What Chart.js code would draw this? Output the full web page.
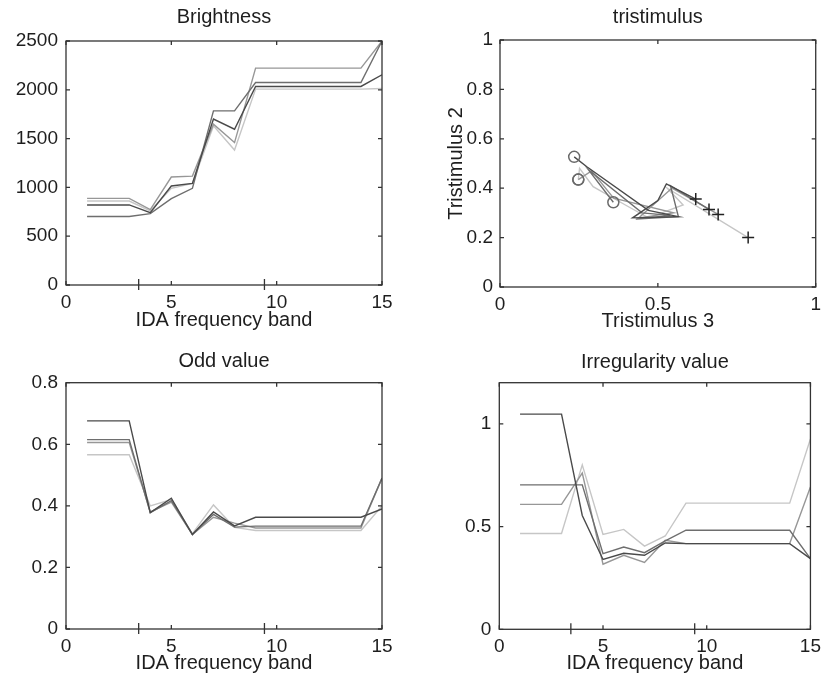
<!DOCTYPE html>
<html><head><meta charset="utf-8">
<script src="https://cdn.jsdelivr.net/npm/chart.js@4.4.0/dist/chart.umd.min.js"></script>
<style>
html,body{margin:0;padding:0;background:#fff;}
#wrap{position:relative;width:827px;height:676px;overflow:hidden;}
.p{position:absolute;}
</style></head><body>
<div id="wrap">
<div class="p" style="left:0;top:0;"><canvas id="c1" width="413" height="338"></canvas></div>
<div class="p" style="left:413px;top:0;"><canvas id="c2" width="414" height="338"></canvas></div>
<div class="p" style="left:0;top:338px;"><canvas id="c3" width="413" height="338"></canvas></div>
<div class="p" style="left:413px;top:338px;"><canvas id="c4" width="414" height="338"></canvas></div>
</div>
<script>
// ---------- data ----------
const bands = [1,2,3,4,5,6,7,8,9,10,11,12,13,14,15];
const bandTicks = [0,5,10,15];
const bandMarks = [3.45, 9.42];

const brightnessTicks = [0,500,1000,1500,2000,2500];
const brightness1 = [820,820,820,740,1014,1041,1700,1596,2034,2034,2034,2034,2034,2034,2154];
const brightness2 = [702,702,702,731,884,990,1784,1784,2075,2075,2075,2075,2075,2075,2500];
const brightness3 = [888,888,888,773,1106,1116,1647,1459,2222,2222,2222,2222,2222,2222,2500];
const brightness4 = [860,860,860,760,990,1041,1630,1383,2007,2007,2007,2007,2007,2007,2014];

const tristXTicks = [0,0.5,1];
const tristYTicks = [0,0.2,0.4,0.6,0.8,1];
const trist3_1 = [0.235,0.235,0.235,0.275,0.47,0.565,0.42,0.50,0.527,0.527,0.527,0.527,0.527,0.527,0.62];
const trist2_1 = [0.527,0.527,0.527,0.487,0.31,0.285,0.28,0.35,0.417,0.417,0.417,0.417,0.417,0.417,0.356];
const trist3_2 = [0.359,0.359,0.359,0.28,0.45,0.54,0.43,0.565,0.54,0.54,0.54,0.54,0.54,0.54,0.662];
const trist2_2 = [0.343,0.343,0.343,0.475,0.30,0.29,0.275,0.285,0.41,0.41,0.41,0.41,0.41,0.41,0.314];
const trist3_3 = [0.248,0.248,0.248,0.29,0.36,0.55,0.44,0.538,0.545,0.545,0.545,0.545,0.545,0.545,0.691];
const trist2_3 = [0.435,0.435,0.435,0.47,0.36,0.30,0.28,0.393,0.40,0.40,0.40,0.40,0.40,0.40,0.294];
const trist3_4 = [0.248,0.248,0.248,0.252,0.295,0.40,0.47,0.58,0.53,0.53,0.53,0.53,0.53,0.53,0.786];
const trist2_4 = [0.435,0.435,0.435,0.48,0.406,0.33,0.28,0.332,0.40,0.40,0.40,0.40,0.40,0.40,0.20];

const oddTicks = [0,0.2,0.4,0.6,0.8];
const odd1 = [0.676,0.676,0.676,0.378,0.425,0.307,0.38,0.335,0.363,0.363,0.363,0.363,0.363,0.363,0.39];
const odd2 = [0.615,0.615,0.615,0.378,0.417,0.307,0.372,0.331,0.334,0.334,0.334,0.334,0.334,0.334,0.49];
const odd3 = [0.606,0.606,0.606,0.38,0.412,0.307,0.363,0.344,0.328,0.328,0.328,0.328,0.328,0.328,0.49];
const odd4 = [0.566,0.566,0.566,0.40,0.42,0.31,0.403,0.33,0.320,0.320,0.320,0.320,0.320,0.320,0.40];

const irrTicks = [0,0.5,1];
const irr1 = [1.047,1.047,1.047,0.554,0.34,0.37,0.36,0.42,0.417,0.417,0.417,0.417,0.417,0.417,0.344];
const irr2 = [0.703,0.703,0.703,0.703,0.368,0.40,0.373,0.43,0.482,0.482,0.482,0.482,0.482,0.482,0.344];
const irr3 = [0.608,0.608,0.608,0.76,0.317,0.36,0.325,0.433,0.417,0.417,0.417,0.417,0.417,0.417,0.692];
const irr4 = [0.466,0.466,0.466,0.80,0.462,0.486,0.405,0.454,0.614,0.614,0.614,0.614,0.614,0.614,0.926];

// ---------- styling ----------
const FONT = '"Liberation Sans", Arial, Helvetica, sans-serif';
const TXT = '#1e1e1e';
const TICK_SIZE = 19;
const TITLE_SIZE = 20;
const lineColors = ['#4a4a4a','#6e6e6e','#979797','#c6c6c6'];
Chart.defaults.font.family = FONT;
Chart.defaults.font.size = TICK_SIZE;
Chart.defaults.color = TXT;

const boxPlugin = {
  id: 'mbox',
  afterDatasetsDraw(chart, args, opts) {
    const {ctx, chartArea: {left, right, top, bottom}, scales: {x, y}} = chart;
    ctx.save();
    ctx.strokeStyle = '#333';
    ctx.lineWidth = 1.3;
    ctx.strokeRect(left, top, right - left, bottom - top);
    const L = 4;
    ctx.beginPath();
    x.ticks.forEach(t => {
      const px = x.getPixelForValue(t.value);
      ctx.moveTo(px, bottom); ctx.lineTo(px, bottom - L);
      ctx.moveTo(px, top); ctx.lineTo(px, top + L);
    });
    y.ticks.forEach(t => {
      const py = y.getPixelForValue(t.value);
      ctx.moveTo(left, py); ctx.lineTo(left + L, py);
      ctx.moveTo(right, py); ctx.lineTo(right - L, py);
    });
    (opts.marks || []).forEach(v => {
      const px = x.getPixelForValue(v);
      ctx.moveTo(px, bottom + 5); ctx.lineTo(px, bottom - 6);
    });
    ctx.stroke();
    // panel title centred over the plot area
    if (opts.title) {
      ctx.fillStyle = TXT;
      ctx.font = TITLE_SIZE + 'px ' + FONT;
      ctx.textAlign = 'center';
      ctx.textBaseline = 'middle';
      ctx.fillText(opts.title, (left + right) / 2, opts.titleY);
    }
    ctx.restore();
  }
};

function axis(o) {
  const s = {
    type: 'linear', min: o.min, max: o.max,
    grid: {display: false, drawTicks: false},
    border: {display: false},
    ticks: {padding: o.pad, font: {size: TICK_SIZE}, color: TXT, autoSkip: false, maxRotation: 0,
            callback: v => String(v)},
    afterBuildTicks: sc => { sc.ticks = o.ticks.map(v => ({value: v})); },
    afterFit: sc => { if (o.w !== undefined) sc.width = o.w; if (o.h !== undefined) sc.height = o.h; }
  };
  if (o.title) s.title = {display: true, text: o.title, font: {size: TITLE_SIZE}, color: TXT, padding: o.tpad};
  return s;
}

function lineDatasets(series) {
  return series.map((arr, i) => ({
    data: bands.map((b, k) => ({x: b, y: arr[k]})),
    showLine: true,
    borderColor: lineColors[i], borderWidth: 1.4, pointRadius: 0, fill: false, tension: 0
  }));
}

function bandChart(id, titleTxt, titleY, top, series, yMin, yMax, yTicks, yW, xH, xTitlePad, rightPad) {
  new Chart(document.getElementById(id), {
    type: 'scatter',
    data: {datasets: lineDatasets(series)},
    options: {
      responsive: false, animation: false,
      layout: {padding: {left: 0, right: rightPad, top: top, bottom: 0}, autoPadding: false},
      plugins: {
        legend: {display: false}, tooltip: {enabled: false},
        mbox: {marks: bandMarks, title: titleTxt, titleY: titleY}
      },
      scales: {
        x: axis({min: 0, max: 15, ticks: bandTicks, pad: 6, h: xH, title: 'IDA frequency band', tpad: {top: 0, bottom: xTitlePad}}),
        y: axis({min: yMin, max: yMax, ticks: yTicks, pad: 8, w: yW})
      }
    },
    plugins: [boxPlugin]
  });
}

bandChart('c1', 'Brightness', 17, 41,
  [brightness1, brightness2, brightness3, brightness4], 0, 2500, brightnessTicks, 66, 53, 6, 31);
bandChart('c3', 'Odd value', 23, 44.7,
  [odd1, odd2, odd3, odd4], 0, 0.8, oddTicks, 66, 47, 1, 31);
bandChart('c4', 'Irregularity value', 24, 44.7,
  [irr1, irr2, irr3, irr4], 0, 1.2, irrTicks, 86.3, 46.7, 1, 12);

// tristimulus
const tX = [trist3_1, trist3_2, trist3_3, trist3_4];
const tY = [trist2_1, trist2_2, trist2_3, trist2_4];
const n = bands.length;
const tDatasets = tX.map((xs, i) => ({
  data: xs.map((v, k) => ({x: v, y: tY[i][k]})),
  showLine: true,
  borderColor: lineColors[i], borderWidth: 1.4, fill: false, tension: 0,
  pointStyle: xs.map((v, k) => k === 0 ? 'circle' : 'cross'),
  pointRadius: xs.map((v, k) => k === 0 ? 5.5 : (k === n - 1 ? 6 : 0)),
  pointBorderColor: xs.map((v, k) => k === 0 ? '#6a6a6a' : '#222'),
  pointBorderWidth: 1.5,
  pointBackgroundColor: 'rgba(0,0,0,0)'
}));
new Chart(document.getElementById('c2'), {
  type: 'scatter',
  data: {datasets: tDatasets},
  options: {
    responsive: false, animation: false,
    layout: {padding: {left: 0, right: 11, top: 40, bottom: 0}, autoPadding: false},
    plugins: {
      legend: {display: false}, tooltip: {enabled: false},
      mbox: {marks: [], title: 'tristimulus', titleY: 17}
    },
    scales: {
      x: axis({min: 0, max: 1, ticks: tristXTicks, pad: 6, h: 51, title: 'Tristimulus 3', tpad: {top: 0, bottom: 5}}),
      y: axis({min: 0, max: 1, ticks: tristYTicks, pad: 7, w: 87, title: 'Tristimulus 2', tpad: {top: 31, bottom: 0}})
    }
  },
  plugins: [boxPlugin]
});
</script>
</body></html>
